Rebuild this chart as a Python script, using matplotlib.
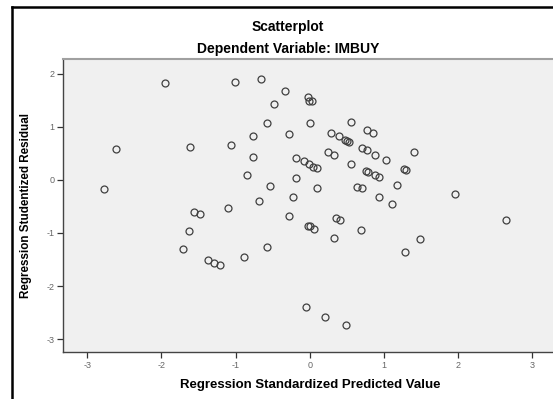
import matplotlib
matplotlib.use("Agg")
import matplotlib.pyplot as plt
from matplotlib.lines import Line2D

plt.rcParams['font.family'] = ['Liberation Sans', 'DejaVu Sans']
plt.rcParams['axes.unicode_minus'] = False

# standardized predicted value vs studentized residual
pred = [-2.77, -2.61, -1.95, -1.61, -1.06, -1.01, -0.66, -0.48, -0.58, -0.76,
        -0.76, -0.85, -0.53, -0.33, -0.03, -0.01, 0.03, 0.00, -0.28, -0.18,
        -0.08, -0.01, 0.05, 0.10, -0.18, 0.56, 0.28, 0.39, 0.47, 0.50,
        0.53, 0.77, 0.85, 0.25, 0.32, 0.70, 0.77, 0.88, 1.03, 1.41,
        0.55, 0.76, 0.79, 0.88, 0.93, 1.27, 1.30, 0.10, 0.63, 0.70,
        1.17, 0.93, 1.11, 0.35, 0.41, -0.03, 0.00, 0.06, 0.69, 0.32,
        1.48, 1.28, -0.23, -0.28, 1.96, 2.65, -0.05, 0.21, 0.49, -0.69,
        -1.10, -1.56, -1.48, -1.63, -1.71, -0.58, -1.37, -1.29, -1.21, -0.89]
resid = [-0.17, 0.59, 1.82, 0.62, 0.65, 1.84, 1.90, 1.44, 1.08, 0.82,
         0.43, 0.09, -0.12, 1.68, 1.57, 1.48, 1.48, 1.08, 0.87, 0.42,
         0.35, 0.31, 0.25, 0.22, 0.03, 1.09, 0.89, 0.82, 0.75, 0.74,
         0.72, 0.94, 0.89, 0.53, 0.47, 0.60, 0.56, 0.48, 0.38, 0.52,
         0.31, 0.17, 0.15, 0.09, 0.06, 0.21, 0.19, -0.15, -0.13, -0.15,
         -0.10, -0.33, -0.46, -0.71, -0.75, -0.86, -0.87, -0.92, -0.95, -1.09,
         -1.11, -1.36, -0.32, -0.68, -0.26, -0.75, -2.39, -2.58, -2.73, -0.40,
         -0.52, -0.60, -0.65, -0.96, -1.30, -1.27, -1.51, -1.57, -1.60, -1.45]
xticks = [-3, -2, -1, 0, 1, 2, 3]
yticks = [-3, -2, -1, 0, 1, 2]

fig = plt.figure(figsize=(5.53, 3.99), dpi=100)
ax = fig.add_axes([0.1134, 0.117, 0.8935, 0.735])
ax.set_facecolor('#f0f0f0')

ax.plot(pred, resid, 'o', markersize=5, markerfacecolor='none',
        markeredgecolor='#404040', markeredgewidth=0.9)

ax.set_xlim(-3.33, 3.33)
ax.set_ylim(-3.25, 2.28)
ax.set_xticks(xticks)
ax.set_yticks(yticks)
ax.tick_params(labelsize=6.5, labelcolor='#666666', color='#333333',
               length=4, width=0.9, pad=2)

for side in ('left', 'bottom'):
    ax.spines[side].set_color('#444444')
    ax.spines[side].set_linewidth(1.0)
ax.spines['top'].set_color('#a0a0a0')
ax.spines['top'].set_linewidth(1.5)
ax.spines['right'].set_visible(False)

ax.set_xlabel('Regression Standardized Predicted Value', fontsize=9.5,
              fontweight='bold', labelpad=7)
ax.set_ylabel('Regression Studentized Residual', fontsize=8.4,
              fontweight='bold', labelpad=10)

fig.text(0.521, 1 - 27 / 399, 'Scatterplot', ha='center', va='center',
         fontsize=10, fontweight='bold')
fig.text(0.521, 1 - 49 / 399, 'Dependent Variable: IMBUY', ha='center',
         va='center', fontsize=10, fontweight='bold')

# outer frame (left and top edges visible in the crop)
fx = 12 / 553
fy = 1 - 7 / 399
fig.add_artist(Line2D([fx, fx], [0, fy], color='black', linewidth=1.8,
                      transform=fig.transFigure))
fig.add_artist(Line2D([fx, 1], [fy, fy], color='black', linewidth=1.8,
                      transform=fig.transFigure))

fig.savefig('out.png', dpi=100)
